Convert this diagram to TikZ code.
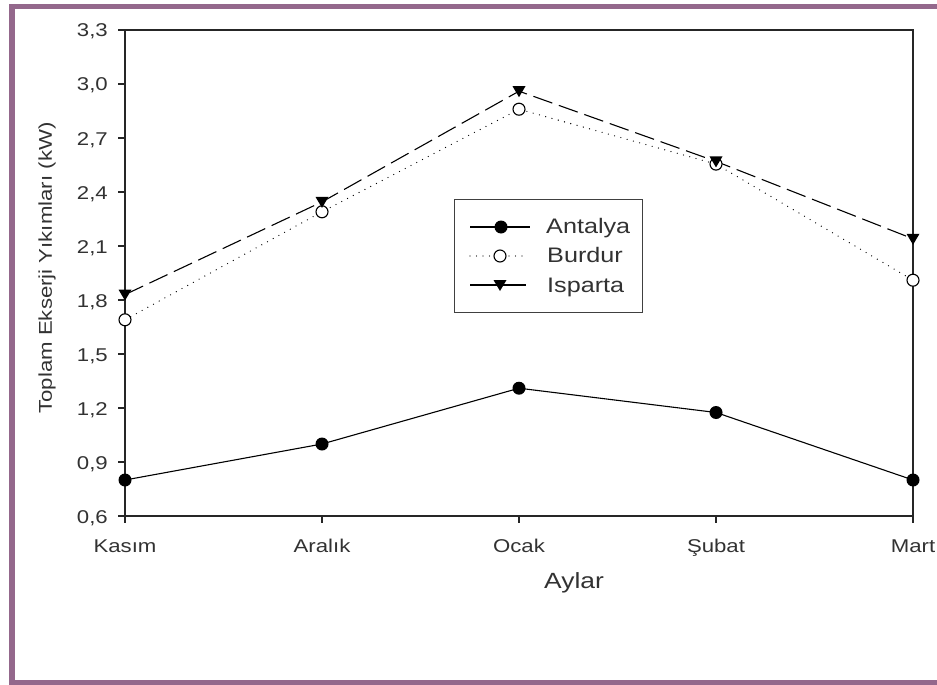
\documentclass[tikz,border=0pt]{standalone}
\usepackage{fontspec}
\setmainfont[FakeStretch=1.2]{Liberation Sans}
\usepackage{tikz}
\definecolor{framepurple}{RGB}{148,104,140}
\definecolor{labelgray}{RGB}{50,50,50}
\def\antmark(#1){\fill (#1) circle (6.5pt);}
\def\burmark(#1){\draw[fill=white, line width=1.1pt] (#1) circle (6pt);}
\def\ispmark(#1){\fill (#1) ++(-6.5pt,5pt) -- ++(13pt,0pt) -- ++(-6.5pt,-11pt) -- cycle;}

\begin{document}
\begin{tikzpicture}[x=1pt, y=-1pt,
		axisline/.style={line width=1.1pt, black!85},
		ticklabel/.style={text=labelgray, font=\fontsize{18.5}{19}\selectfont, inner sep=0pt},
		monthlabel/.style={text=labelgray, font=\fontsize{18.5}{19}\selectfont, inner sep=0pt, anchor=base},
		legendlabel/.style={text=labelgray, font=\fontsize{21}{22}\selectfont, inner sep=0pt, anchor=base west},
		antline/.style={line width=1.1pt},
		burline/.style={line width=1.3pt, line cap=round, dash pattern=on 0pt off 6.5pt},
		ispline/.style={line width=1.1pt, dash pattern=on 20pt off 7pt}]
			%%%%% START %%%%%
			
			\useasboundingbox (0,0) rectangle (937,685);
			\draw[framepurple, line width=5.5pt] (940,6.5) -- (12,6.5) -- (12,682.5) -- (940,682.5);
			
			\draw[axisline] (125,30) rectangle (913,516);
			
			\foreach \k/\t in {0/{0,6},1/{0,9},2/{1,2},3/{1,5},4/{1,8},5/{2,1},6/{2,4},7/{2,7},8/{3,0},9/{3,3}}{
				\draw[axisline] (118,516-54*\k) -- (125,516-54*\k);
				\node[ticklabel, anchor=base east] (ytick\k) at (108,523-54*\k) {\t};
			}
			
			\foreach \k/\m in {0/Kasım,1/Aralık,2/Ocak,3/Şubat,4/Mart}{
				\draw[axisline] (125+197*\k,516) -- (125+197*\k,523);
				\node[monthlabel] (xtick\k) at (125+197*\k,552) {\m};
			}
			
			\node[text=labelgray, font=\fontsize{22}{22}\selectfont, inner sep=0pt, anchor=base] (xlabel) at (574,588) {Aylar};
			\node[text=labelgray, font=\fontsize{18.5}{18}\selectfont, inner sep=0pt, rotate=90] (ylabel) at (47,268) {Toplam Ekserji Yıkımları (kW)};
			
			% data, one unit per month and per kW
			\begin{scope}[shift={(125,624)}, x=197pt, y=180pt]
				\draw[burline] plot coordinates {(0,1.69) (1,2.29) (2,2.86) (3,2.555) (4,1.91)};
				\draw[ispline] plot coordinates {(0,1.83) (1,2.345) (2,2.96) (3,2.57) (4,2.14)};
				\draw[antline] plot coordinates {(0,0.8) (1,1.0) (2,1.31) (3,1.175) (4,0.8)};
				\foreach \i/\v in {0/1.69,1/2.29,2/2.86,3/2.555,4/1.91}{\burmark(\i,\v)}
				\foreach \i/\v in {0/1.83,1/2.345,2/2.96,3/2.57,4/2.14}{\ispmark(\i,\v)}
				\foreach \i/\v in {0/0.8,1/1.0,2/1.31,3/1.175,4/0.8}{\antmark(\i,\v)}
			\end{scope}
			
			% legend
			\draw[line width=1pt, black!75] (454,199) rectangle (642,312);
			\draw[antline] (470,227) -- (530,227);
			\antmark(501,227)
			\node[legendlabel] (legant) at (546,233) {Antalya};
			\draw[burline] (470,256) -- (528,256);
			\burmark(500,256)
			\node[legendlabel] (legbur) at (547,262) {Burdur};
			\draw[antline] (470,285) -- (526,285);
			\ispmark(500,285)
			\node[legendlabel] (legisp) at (547,292) {Isparta};
			
			%%%%% END %%%%%
		\end{tikzpicture}
\end{document}
